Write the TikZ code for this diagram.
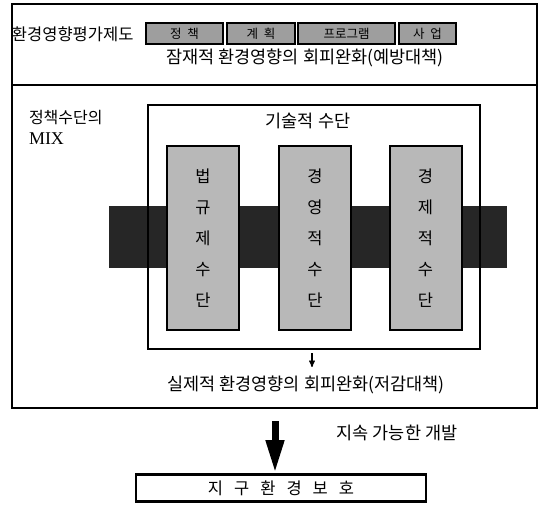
\documentclass[tikz,border=0pt]{standalone}
\usepackage{fontspec}
\newfontfamily\kr{Noto Sans CJK KR}
\newfontfamily\mixfont{Liberation Serif}
\usetikzlibrary{positioning}
\usetikzlibrary{arrows}
\usetikzlibrary{arrows.meta}

\begin{document}
\begin{tikzpicture}[x=1pt,y=-1pt,>=stealth',line width=2pt,
                    frame/.style={draw,inner sep=0pt},
                    tab/.style={draw,fill=black!38,minimum height=21pt,inner sep=0pt,
                                font=\kr\fontsize{12.5}{12.5}\selectfont},
                    pillar/.style={draw,fill=black!28,minimum width=72pt,minimum height=184pt,
                                   inner sep=0pt,align=center,font=\kr\fontsize{16.5}{31}\selectfont},
                    label text/.style={inner sep=0pt,font=\kr\fontsize{17.5}{22}\selectfont}]
\useasboundingbox (0,0) rectangle (546,505);

% two outer frames
\node[frame, minimum width=525pt, minimum height=81pt] (top) at (274.5,44.5) {};
\node[frame, minimum width=525pt, minimum height=323pt] (mix) at (274.5,246.5) {};

% EIA row
\node[label text, anchor=west, font=\kr\fontsize{16.5}{16.5}\selectfont] (eia) at (11,34) {환경영향평가제도};
\node[tab, minimum width=77pt, anchor=west] (policy) at (145,34) {정\ \ 책};
\node[tab, minimum width=68pt, right=2pt of policy] (plan) {계\ \ 획};
\node[tab, minimum width=97pt, right=1pt of plan] (program) {프로그램};
\node[tab, minimum width=57pt, right=2pt of program] (project) {사\ \ 업};
\node[label text] (prevent) at (305,58) {잠재적 환경영향의 회피완화(예방대책)};

% policy mix
\node[label text, anchor=north west, align=left, font=\kr\fontsize{16}{21}\selectfont] (mixlabel) at (28,109)
      {정책수단의\\{\mixfont\fontsize{18}{21}\selectfont MIX}};
\node[fill=black!85, minimum width=398pt, minimum height=62pt, inner sep=0pt] (band) at (308,237) {};
\node[frame, minimum width=332pt, minimum height=244pt] (tech) at (314,227) {};
\node[label text] (techlabel) at (308,121) {기술적 수단};

\node[pillar] (law) at (203,238) {법\\규\\제\\수\\단};
\node[pillar] (mgmt) at (315,238) {경\\영\\적\\수\\단};
\node[pillar] (econ) at (425.5,238) {경\\제\\적\\수\\단};

\node[label text] (reduce) at (306,385) {실제적 환경영향의 회피완화(저감대책)};
\draw[->, line width=1.3pt, shorten <=3pt, shorten >=8pt] (tech.south -| 312,0) -- (reduce.north -| 312,0);

% result
\node[frame, line width=2.6pt, minimum width=290pt, minimum height=27pt,
      font=\kr\fontsize{16.5}{16.5}\selectfont] (earth) at (281,488)
      {지\hspace{11pt}구\hspace{11pt}환\hspace{11pt}경\hspace{11pt}보\hspace{11pt}호};
\coordinate (flowtop) at (275,421);
\draw[line width=7pt, -{Triangle[width=17pt,length=33pt]}] (flowtop) -- (flowtop |- earth.north);
\node[label text] (sustain) at (397,433) {지속 가능한 개발};

\end{tikzpicture}
\end{document}
